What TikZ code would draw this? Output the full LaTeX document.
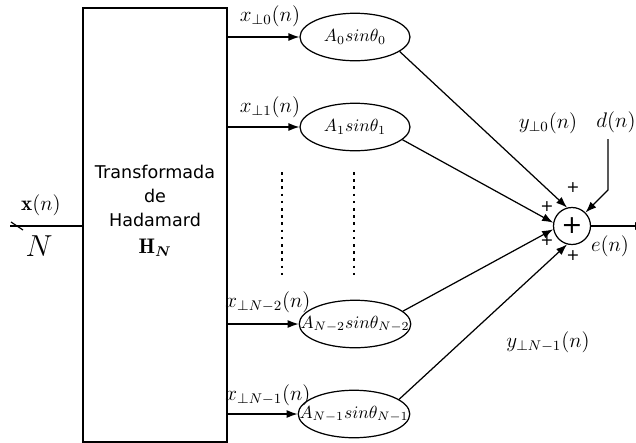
\documentclass[tikz,border=0pt]{standalone}
\usepackage{bm}
\usepackage{fontspec}
\setsansfont{DejaVu Sans}
\usetikzlibrary{arrows.meta, shapes, shapes.geometric, positioning}

\begin{document}
\begin{tikzpicture}[
  x=0.02cm, y=-0.02cm,
  line width=0.7pt,
  >={Latex[length=2.2mm,width=1.6mm]},
  blk/.style={ellipse, draw, minimum width=2.2cm, minimum height=0.95cm, inner xsep=-0.3cm, inner ysep=0pt},
  lbl/.style={font=\large},
  sgn/.style={font=\sffamily\small, inner sep=0pt},
  dots/.style={dash pattern=on 1.5pt off 2.6pt}]

  \useasboundingbox (0,0) rectangle (636,443);
  \clip (0,0) rectangle (636,443);

  % transform box
  \node[draw, minimum width=2.88cm, minimum height=8.68cm] (H) at (155,225) {};
  \node[font=\sffamily, align=center, inner sep=0pt] (Htxt) at (155,196) {Transformada\\[1.5pt]de\\[1.5pt]Hadamard};
  \node[lbl] (HN) at (155,248) {$\mathbf{H}_{\bm{N}}$};

  % input
  \coordinate (in) at (10,226);
  \coordinate (cut) at (17,226);
  \draw (in) -- (in -| H.west);
  \draw ([shift={(-6,-4)}]cut) -- ([shift={(6,4)}]cut);
  \node[lbl] (xn) at (41,205) {$\mathbf{x}(n)$};
  \node[font=\LARGE] (N) at (39,246) {$N$};

  % branches
  \node[blk] (g0) at (355,37) {$A_0 sin\theta_0$};
  \node[blk] (g1) at (355,127) {$A_1 sin\theta_1$};
  \node[blk] (g2) at (355,324) {$A_{N-2} sin\theta_{N-2}$};
  \node[blk] (g3) at (354,414) {$A_{N-1} sin\theta_{N-1}$};

  \foreach \g in {g0,g1,g2,g3}
    \draw[->] (\g.west -| H.east) -- (\g.west);

  \node[lbl] (x0) at (270,16) {$x_{\perp 0}(n)$};
  \node[lbl] (x1) at (270,107) {$x_{\perp 1}(n)$};
  \node[lbl] (x2) at (268,302) {$x_{\perp N-2}(n)$};
  \node[lbl] (x3) at (268,395) {$x_{\perp N-1}(n)$};

  \coordinate (d0a) at (282,172);
  \coordinate (d0b) at (282,276);
  \coordinate (d1a) at (354,172);
  \coordinate (d1b) at (354,276);
  \draw[dots] (d0a) -- (d0b);
  \draw[dots] (d1a) -- (d1b);

  % sum
  \node[circle, draw, minimum size=0.74cm, inner sep=0pt, font=\sffamily\Large] (s) at (572,226) {+};
  \draw[->] (g0.-18) -- (s.105);
  \draw[->] (g1.-15) -- (s.170);
  \draw[->] (g2.15) -- (s.190);
  \draw[->] (g3.18) -- (s.-105);

  \node[sgn] (p0) at (573,188) {+};
  \node[sgn] (p1) at (547,207) {+};
  \node[sgn] (p2) at (547,241) {+};
  \node[sgn] (p3) at (573,256) {+};

  \node[lbl] (y0) at (548,123) {$y_{\perp 0}(n)$};
  \node[lbl] (y3) at (548,342) {$y_{\perp N-1}(n)$};

  % desired and error
  \node[lbl] (dn) at (616,122) {$d(n)$};
  \coordinate (bend) at (608,190);
  \draw[->] (dn.south -| bend) -- (bend) -- (s.north east);
  \coordinate (out) at (646,226);
  \draw[->] (s) -- (out);
  \node[lbl] (en) at (610,246) {$e(n)$};
\end{tikzpicture}
\end{document}
